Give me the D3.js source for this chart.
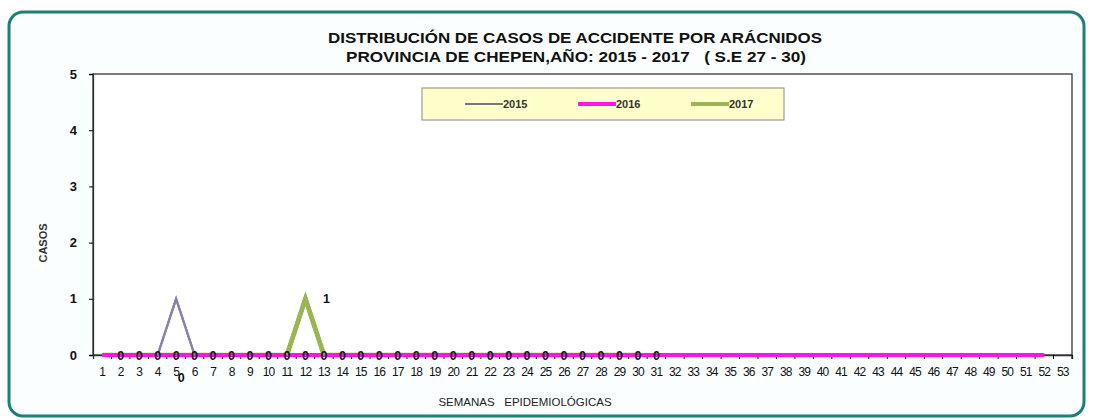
<!DOCTYPE html>
<html><head><meta charset="utf-8">
<script src="https://cdn.jsdelivr.net/npm/d3@7"></script>
<style>body{margin:0;background:#fff}svg{display:block}text{font-family:"Liberation Sans",Arial,sans-serif}</style>
</head><body>
<svg id="c" width="1093" height="420"></svg>
<script>
const weeks = d3.range(1, 54).map(String);
const s2015 = [0,0,0,0,1,0,0,0,0,0,0,0,0,0,0,0,0,0,0,0,0,0,0,0,0,0,0,0,0,0,0];
const s2016 = [0,0,0,0,0,0,0,0,0,0,0,0,0,0,0,0,0,0,0,0,0,0,0,0,0,0,0,0,0,0,0,0,0,0,0,0,0,0,0,0,0,0,0,0,0,0,0,0,0,0,0,0];
const s2017 = [0,0,0,0,0,0,0,0,0,0,0,1,0,0,0,0,0,0,0,0,0,0,0,0,0,0,0,0,0,0];
const seriesNames = ["2015","2016","2017"];
const colors = {"2015":"#8c7fae","2016":"#ff14e8","2017":"#9bb552"};
const widths = {"2015":2.2,"2016":4,"2017":4.5};
const yTicks = [0,1,2,3,4,5];
const zeroLabelWeeks = d3.range(2, 32);

const svg = d3.select("#c");
svg.append("rect").attr("x",9).attr("y",12).attr("width",1075).attr("height",404)
  .attr("rx",14).attr("fill","#fbfefe").attr("stroke","#1d7f78").attr("stroke-width",3);

const L=93,R=1072,T=74,B=355;
const x = d3.scaleBand().domain(weeks).range([L,R]);
const y = d3.scaleLinear().domain([0,5]).range([B,T]);
const cx = w => x(String(w)) + x.bandwidth()/2;

svg.append("rect").attr("x",L).attr("y",T).attr("width",R-L).attr("height",B-T).attr("fill","#fff").attr("stroke","#333").attr("stroke-width",1.3);

const title = svg.append("g").attr("font-weight","bold").attr("font-size",15).attr("fill","#111");
title.append("text").attr("x",328).attr("y",43).attr("textLength",494).attr("lengthAdjust","spacingAndGlyphs").text("DISTRIBUCIÓN DE CASOS DE ACCIDENTE POR ARÁCNIDOS");
title.append("text").attr("x",346).attr("y",62).attr("textLength",460).attr("lengthAdjust","spacingAndGlyphs").attr("xml:space","preserve").text("PROVINCIA DE CHEPEN,AÑO: 2015 - 2017   ( S.E 27 - 30)");

const ya = svg.append("g").attr("transform",`translate(${L},0)`)
  .call(d3.axisLeft(y).tickValues(yTicks).tickFormat(d3.format("d")).tickSize(4).tickPadding(12));
ya.select(".domain").attr("stroke","#333").attr("stroke-width",1.3);
ya.selectAll("text").attr("font-size",13).attr("font-weight","bold").attr("fill","#111").attr("font-family","Liberation Sans, Arial");

const xa = svg.append("g").attr("transform",`translate(0,${B})`)
  .call(d3.axisBottom(x).tickSize(4).tickPadding(8));
xa.select(".domain").attr("stroke","#333").attr("stroke-width",1.3);
xa.selectAll("line").attr("transform",`translate(${x.bandwidth()/2},0)`);
xa.selectAll("text").attr("font-size",12).attr("fill","#111").attr("letter-spacing","-0.9").attr("font-family","Liberation Sans, Arial");

svg.append("text").attr("transform","translate(47,243) rotate(-90)").attr("text-anchor","middle").attr("font-size",11).attr("font-weight","bold").attr("fill","#333").text("CASOS");
svg.append("text").attr("x",525).attr("y",406).attr("text-anchor","middle").attr("font-size",11.5).attr("fill","#222").attr("xml:space","preserve").text("SEMANAS   EPIDEMIOLÓGICAS");

const line = d3.line().x((d,i)=>cx(i+1)).y(d=>y(d));
const data = {"2015":s2015,"2016":s2016,"2017":s2017};
["2015","2017","2016"].forEach(k=>{
  svg.append("path").datum(data[k]).attr("d",line).attr("fill","none")
    .attr("stroke",colors[k]).attr("stroke-width",widths[k]).attr("stroke-linejoin","miter");
});
svg.append("path").datum(s2017.slice(10,13)).attr("d",d3.line().x((d,i)=>cx(i+11)).y(d=>y(d)))
  .attr("fill","none").attr("stroke",colors["2017"]).attr("stroke-width",widths["2017"]);
svg.append("path").datum(s2015.slice(3,6)).attr("d",d3.line().x((d,i)=>cx(i+4)).y(d=>y(d)))
  .attr("fill","none").attr("stroke",colors["2015"]).attr("stroke-width",widths["2015"]);

const lab = svg.append("g").attr("font-size",12.5).attr("font-weight","bold").attr("fill","#111").attr("text-anchor","middle");
zeroLabelWeeks.forEach(w=>{
  lab.append("text").attr("x",cx(w)).attr("y",y(0)+5).text(String(s2016[w-1]));
});
lab.append("text").attr("x",cx(5)+5).attr("y",y(0)+27).text(String(s2015[4]-1));
lab.append("text").attr("x",cx(12)+21).attr("y",y(1)+4).text(String(s2017[11]));

// legend
const lg = svg.append("g").attr("transform","translate(422,88)");
lg.append("rect").attr("width",362).attr("height",32).attr("fill","#ffffcc").attr("stroke","#888").attr("stroke-width",1);
seriesNames.forEach((k,i)=>{
  const gx = 43 + i*113;
  lg.append("line").attr("x1",gx).attr("x2",gx+38).attr("y1",16).attr("y2",16).attr("stroke",k==="2015"?"#777":colors[k]).attr("stroke-width",k==="2015"?2:4);
  lg.append("text").attr("x",gx+38).attr("y",20).attr("font-size",11).attr("font-weight","bold").attr("fill","#333").text(k);
});
</script>
</body></html>
